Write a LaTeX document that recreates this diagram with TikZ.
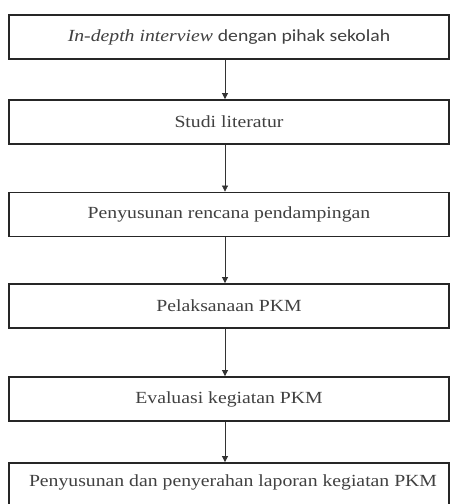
\documentclass[tikz,border=0pt]{standalone}
\usepackage{fontspec}
\setmainfont{Liberation Serif}
\newfontfamily\sansalt{Carlito}
\usetikzlibrary{arrows.meta}
\newcommand{\widetext}[1]{\scalebox{1.16}[1]{#1}}
\begin{document}
\begin{tikzpicture}[x=1pt,y=-1pt,
  stepbox/.style={draw=black!85,line width=1.8pt,minimum width=440pt,minimum height=44pt,inner sep=0pt,
    text=black!75,font=\fontsize{17}{20}\selectfont},
  flow/.style={draw=black!80,line width=0.7pt,-{Triangle[length=6pt,width=6pt]}}]
\useasboundingbox[fill=white] (0,0) rectangle (452,504);
\node[stepbox] (a) at (229,37) {\widetext{\textit{In-depth interview} {\sansalt dengan pihak sekolah}}};
\node[stepbox] (b) at (229,122) {\widetext{Studi literatur}};
\node[stepbox] (c) at (229,214.5) {\widetext{Penyusunan rencana pendampingan}};
\node[stepbox] (d) at (229,306) {\widetext{Pelaksanaan PKM}};
\node[stepbox] (e) at (229,399) {\widetext{Evaluasi kegiatan PKM}};
\node[stepbox,minimum height=46pt] (f) at (229,486) {};
\node[text=black!75,font=\fontsize{17}{20}\selectfont] (ft) at (233,482) {\widetext{Penyusunan dan penyerahan laporan kegiatan PKM}};
\draw[flow] (a.south -| 225,0) -- (b.north -| 225,0);
\draw[flow] (b.south -| 225,0) -- (c.north -| 225,0);
\draw[flow] (c.south -| 225,0) -- (d.north -| 225,0);
\draw[flow] (d.south -| 225,0) -- (e.north -| 225,0);
\draw[flow] (e.south -| 225,0) -- (f.north -| 225,0);
\end{tikzpicture}
\end{document}
